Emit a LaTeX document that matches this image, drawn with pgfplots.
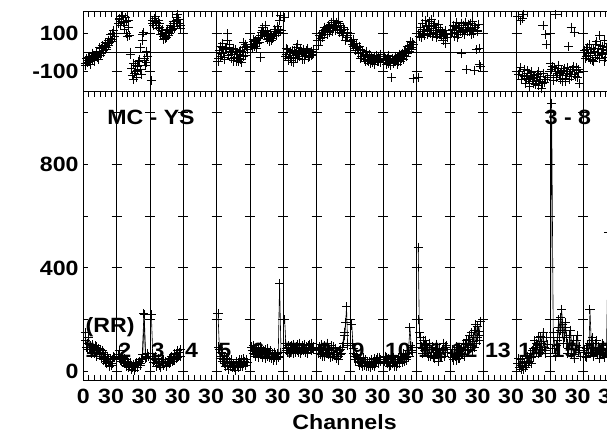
\documentclass[border=0pt]{standalone}
\usepackage{fontspec}
\setmainfont{Liberation Sans}[FakeStretch=1.12]
\usepackage{pgfplots}
\pgfplotsset{compat=1.18}

\newcommand{\lbl}{\bfseries\fontsize{15.5}{16}\selectfont}

\pgfplotsset{
  panel/.style={
    scale only axis, width=425pt, xmin=0, xmax=612,
    anchor=south west,
    tick align=inside,
    xtick={0,36,...,612}, xticklabels={},
    minor x tick num=5,
    xmajorgrids, major grid style={black, line width=0.6pt},
    major tick length=3.75pt, minor tick length=4pt,
    every tick/.append style={black, line width=0.6pt},
    axis line style={line width=0.75pt},
    ytick pos=left,
    tick label style={font=\lbl},
    unbounded coords=jump,
  },
  ampmark/.style={black, line width=0.45pt, mark=+, mark size=3.4pt, mark options={line width=0.75pt}},
  phmark/.style={black, only marks, mark=+, mark size=3.4pt, mark options={line width=0.75pt}},
}

\begin{document}
\begin{tikzpicture}
\useasboundingbox (0,0) rectangle (455.25pt,325.5pt);
\clip (0,0) rectangle (455.25pt,325.5pt);

% amplitude panel
\begin{axis}[panel, at={(62.475pt,40.125pt)}, height=216.375pt,
  ymin=-34, ymax=1078,
  ytick={0,200,...,1000}, yticklabels={0,,400,,800,},
  extra x ticks={0,30,66,...,570},
  extra x tick labels={0,30,30,30,30,30,30,30,30,30,30,30,30,30,30,30,30},
  extra x tick style={major tick length=0pt, grid=none,
    xticklabel style={yshift=-3pt}},
]
\pgfplotsinvokeforeach{36,72,...,576}{
  \draw[line width=0.6pt] \foreach \yy in {0,200,...,1000}{(#1,\yy) ++(-3.75pt,0pt) -- ++(7.5pt,0pt)};
}
\addplot[ampmark] coordinates {
(2,150)(3.5,95)(5,110)(6.5,85)(8,100)(9.5,75)(11,90)(12.5,70)(14,95)(15.5,80)(17,65)(18.5,85)(20,60)(21.5,75)(23,55)(24.5,40)(26,60)(27.5,35)(29,50)(30.5,25)(32,45)(33.5,55)(35,nan)
(38,65)(39.5,50)(41,40)(42.5,55)(44,30)(45.5,45)(47,25)(48.5,35)(50,20)(51.5,30)(53,15)(54.5,28)(56,18)(57.5,35)(59,22)(60.5,40)(62,30)(63.5,50)(65.5,225)(67,60)(68.5,55)(70,60)(71,nan)
(73.5,220)(75,70)(76.5,45)(78,60)(79.5,30)(81,50)(82.5,25)(84,40)(85.5,30)(87,45)(88.5,35)(90,25)(91.5,40)(93,30)(94.5,50)(96,40)(97.5,55)(99,45)(100.5,65)(102,55)(103.5,75)(105,60)(107,nan)
(145.5,225)(147,85)(148.5,60)(150,70)(151.5,45)(153,30)(154.5,50)(156,25)(157.5,40)(159,20)(160.5,35)(162,30)(163.5,15)(165,40)(166.5,25)(168,35)(169.5,20)(171,45)(172.5,30)(174,40)(175.5,25)(177,35)(179,nan)
(182,95)(183.5,70)(185,80)(186.5,60)(188,75)(189.5,90)(191,65)(192.5,80)(194,55)(195.5,70)(197,85)(198.5,60)(200,75)(201.5,65)(203,50)(204.5,70)(206,55)(207.5,65)(209,45)(210.5,60)(212,340)(213.5,75)(215,nan)
(217.5,200)(219,90)(220.5,75)(222,95)(223.5,80)(225,100)(226.5,70)(228,90)(229.5,85)(231,105)(232.5,75)(234,95)(235.5,80)(237,100)(238.5,90)(240,75)(241.5,95)(243,85)(244.5,105)(246,80)(247.5,90)(249,95)(251,nan)
(253.5,70)(255,95)(256.5,80)(258,60)(259.5,85)(261,100)(262.5,70)(264,90)(265.5,75)(267,55)(268.5,80)(270,95)(271.5,65)(273,50)(274.5,75)(276,60)(277.5,85)(279,70)(281,110)(282.5,140)(284.3,250)(285.5,100)(287,nan)
(290,180)(291.5,90)(293,60)(294.5,45)(296,55)(297.5,35)(299,50)(300.5,30)(302,40)(303.5,25)(305,45)(306.5,30)(308,20)(309.5,40)(311,35)(312.5,25)(314,50)(315.5,30)(317,45)(318.5,35)(320,55)(321.5,40)(323,nan)
(325.5,40)(327,55)(328.5,30)(330,45)(331.5,25)(333,50)(334.5,35)(336,20)(337.5,45)(339,30)(340.5,55)(342,40)(343.5,60)(345,35)(346.5,50)(348,65)(349.5,45)(351,70)(352.8,170)(354.5,80)(356,95)(358,nan)
(361.7,480)(363,150)(364.5,110)(366,90)(367.5,120)(369,80)(370.5,100)(372,70)(373.5,95)(375,60)(376.5,85)(378,75)(379.5,50)(381,90)(382.5,65)(384,40)(385.5,70)(387,55)(388.5,80)(390,60)(391.5,95)(393,75)(395,nan)
(397.5,70)(399,55)(400.5,85)(402,60)(403.5,45)(405,75)(406.5,50)(408,90)(409.5,65)(411,110)(412.5,80)(414,120)(415.5,95)(417,140)(418.5,105)(420,80)(421.5,130)(423,160)(424.5,110)(426,175)(427.5,140)(429,195)(431,nan)
(469.5,30)(471,15)(472.5,45)(474,20)(475.5,10)(477,35)(478.5,25)(480,50)(481.5,40)(483,70)(484.5,55)(486,90)(487.5,120)(489,75)(490.5,100)(492,130)(493.5,85)(495,110)(496.5,150)(498,95)(499.5,80)(501,105)(503,nan)
(504.5,60)(505.8,1035)(507.5,150)(509,90)(510.5,60)(512,120)(513.5,200)(515,160)(516.5,240)(518,180)(519.5,130)(521,170)(522.5,110)(524,90)(525.5,140)(527,70)(528.5,100)(530,50)(531.5,85)(533,120)(534.5,75)(536,95)(538,nan)
(541.5,80)(543,55)(544.5,100)(546,70)(547.2,240)(548.5,120)(550,90)(551.5,60)(553,110)(554.5,75)(556,95)(557.5,50)(559,85)(560.5,65)(562,100)(563.5,70)(565,90)(567.2,538)(569,80)
};
\addplot[ampmark] coordinates {
(2.75,120)(4.25,85)(5.75,130)(7.25,95)(8.75,70)(10.25,105)(11.75,80)(13.25,100)(14.75,60)(16.25,90)(17.75,70)(19.25,50)(20.75,80)(22.25,45)(23.75,65)(25.25,30)(26.75,50)(28.25,20)(29.75,40)(31.25,30)(32.75,60)(34,nan)
(38.75,80)(40.25,45)(41.75,60)(43.25,35)(44.75,50)(46.25,20)(47.75,40)(49.25,15)(50.75,35)(52.25,10)(53.75,25)(55.25,5)(56.75,30)(58.25,15)(59.75,35)(61.25,25)(62.75,45)(64.25,65)(65.8,220)(67.5,50)(69,70)(70.5,nan)
(74.75,60)(76.25,35)(77.75,50)(79.25,20)(80.75,40)(82.25,30)(83.75,15)(85.25,45)(86.75,25)(88.25,40)(89.75,20)(91.25,35)(92.75,50)(94.25,35)(95.75,60)(97.25,45)(98.75,70)(100.25,50)(101.75,80)(103.25,60)(104.75,85)(106,nan)
(146.25,95)(147.75,50)(149.25,75)(150.75,40)(152.25,60)(153.75,20)(155.25,40)(156.75,10)(158.25,30)(159.75,45)(161.25,15)(162.75,25)(164.25,5)(165.75,30)(167.25,15)(168.75,45)(170.25,30)(171.75,20)(173.25,50)(174.75,25)(176.25,45)(178,nan)
(182.75,80)(184.25,100)(185.75,65)(187.25,85)(188.75,55)(190.25,75)(191.75,95)(193.25,60)(194.75,80)(196.25,50)(197.75,70)(199.25,90)(200.75,55)(202.25,80)(203.75,60)(205.25,45)(206.75,75)(208.25,50)(209.75,70)(211.25,55)(214,nan)
(218.25,110)(219.75,80)(221.25,100)(222.75,70)(224.25,95)(225.75,85)(227.25,105)(228.75,75)(230.25,95)(231.75,80)(233.25,110)(234.75,70)(236.25,90)(237.75,80)(239.25,105)(240.75,90)(242.25,70)(243.75,100)(245.25,90)(246.75,110)(248.25,85)(250,nan)
(254.25,90)(255.75,65)(257.25,105)(258.75,75)(260.25,60)(261.75,85)(263.25,110)(264.75,65)(266.25,85)(267.75,100)(269.25,60)(270.75,75)(272.25,90)(273.75,65)(275.25,45)(276.75,80)(278.25,65)(279.75,95)(281.75,150)(283.5,190)(286,nan)
(290.75,110)(292.25,70)(293.75,45)(295.25,65)(296.75,40)(298.25,25)(299.75,45)(301.25,20)(302.75,55)(304.25,35)(305.75,20)(307.25,40)(308.75,30)(310.25,15)(311.75,45)(313.25,35)(314.75,20)(316.25,40)(317.75,55)(319.25,30)(320.75,45)(322,nan)
(326.25,60)(327.75,35)(329.25,50)(330.75,20)(332.25,40)(333.75,30)(335.25,55)(336.75,35)(338.25,20)(339.75,45)(341.25,30)(342.75,60)(344.25,45)(345.75,70)(347.25,40)(348.75,55)(350.25,80)(351.75,60)(353.5,100)(355,75)(357,nan)
(362.5,200)(363.75,130)(365.25,95)(366.75,70)(368.25,105)(369.75,120)(371.25,85)(372.75,60)(374.25,110)(375.75,75)(377.25,95)(378.75,55)(380.25,80)(381.75,105)(383.25,70)(384.75,90)(386.25,60)(387.75,85)(389.25,110)(390.75,75)(392.25,100)(394,nan)
(398.25,85)(399.75,45)(401.25,70)(402.75,95)(404.25,65)(405.75,50)(407.25,85)(408.75,70)(410.25,95)(411.75,60)(413.25,105)(414.75,85)(416.25,125)(417.75,100)(419.25,150)(420.75,115)(422.25,95)(423.75,180)(425.25,130)(426.75,155)(428.25,120)(430,nan)
(470.25,50)(471.75,25)(473.25,10)(474.75,40)(476.25,30)(477.75,15)(479.25,60)(480.75,35)(482.25,55)(483.75,30)(485.25,80)(486.75,60)(488.25,95)(489.75,110)(491.25,70)(492.75,95)(494.25,135)(495.75,80)(497.25,115)(498.75,70)(500.25,130)(502,nan)
(507,90)(508.25,130)(509.75,70)(511.25,100)(512.75,170)(514.25,130)(515.75,210)(517.25,150)(518.75,110)(520.25,190)(521.75,130)(523.25,70)(524.75,110)(526.25,160)(527.75,85)(529.25,120)(530.75,65)(532.25,100)(533.75,140)(535.25,80)(536.75,60)(538,nan)
(542.25,60)(543.75,90)(545.25,75)(546.75,110)(548.25,70)(549.75,130)(551.25,95)(552.75,80)(554.25,120)(555.75,65)(557.25,90)(558.75,70)(560.25,110)(561.75,80)(563.25,55)(564.75,75)(566.25,100)
};
\node[font=\lbl] at (73.1,981) {MC - YS};
\node[font=\lbl] at (523.4,980) {3 - 8};
\node[font=\lbl] at (28.9,170) {(RR)};
\node[font=\lbl,anchor=west,inner sep=0pt] at (1.6,82) {1};
\node[font=\lbl,anchor=west,inner sep=0pt] at (37.6,82) {2};
\node[font=\lbl,anchor=west,inner sep=0pt] at (73.6,82) {3};
\node[font=\lbl,anchor=west,inner sep=0pt] at (109.6,82) {4};
\node[font=\lbl,anchor=west,inner sep=0pt] at (145.6,82) {5};
\node[font=\lbl,anchor=west,inner sep=0pt] at (181.6,82) {6};
\node[font=\lbl,anchor=west,inner sep=0pt] at (217.6,82) {7};
\node[font=\lbl,anchor=west,inner sep=0pt] at (253.6,82) {8};
\node[font=\lbl,anchor=west,inner sep=0pt] at (289.6,82) {9};
\node[font=\lbl,anchor=west,inner sep=0pt] at (325.6,82) {10};
\node[font=\lbl,anchor=west,inner sep=0pt] at (361.6,82) {11};
\node[font=\lbl,anchor=west,inner sep=0pt] at (397.6,82) {12};
\node[font=\lbl,anchor=west,inner sep=0pt] at (433.6,82) {13};
\node[font=\lbl,anchor=west,inner sep=0pt] at (469.6,82) {14};
\node[font=\lbl,anchor=west,inner sep=0pt] at (505.6,82) {15};
\node[font=\lbl,anchor=west,inner sep=0pt] at (541.6,82) {16};
\end{axis}

% phase panel
\begin{axis}[panel, at={(62.475pt,256.5pt)}, height=60pt,
  ymin=-205, ymax=208,
  ytick={-100,100}, yticklabels={-100,100},
  xtick pos=right,
]
\draw[line width=0.6pt] (0,0) -- (612,0);
\pgfplotsinvokeforeach{36,72,...,576}{
  \draw[line width=0.6pt] \foreach \yy in {-100,100}{(#1,\yy) ++(-3.75pt,0pt) -- ++(7.5pt,0pt)};
}
\addplot[phmark] coordinates {
(2,-60)(3.5,-30)(5,-45)(6.5,-20)(8,-50)(9.5,-35)(11,-15)(12.5,-40)(14,-10)(15.5,-25)(17,5)(18.5,-15)(20,20)(21.5,0)(23,30)(24.5,15)(26,45)(27.5,35)(29,70)(30.5,55)(32,95)(33.5,80)
(38,150)(39.5,175)(41,160)(42.5,190)(44,140)(45.5,180)(47,95)(48.5,165)(50,85)(51.5,0)(53,-120)(54.5,-60)(56,-100)(57.5,-130)(59,-75)(60.5,-40)(62,-90)(63.5,60)(65,100)(66.5,-30)(68,-55)(69.5,-20)
(73.5,-145)(75,150)(76.5,175)(78,160)(79.5,140)(81,165)(82.5,130)(84,110)(85.5,95)(87,80)(88.5,70)(90,100)(91.5,85)(93,110)(94.5,130)(96,120)(97.5,150)(99,135)(100.5,165)(102,195)(103.5,150)(105,140)
(145.5,-50)(147,10)(148.5,-20)(150,25)(151.5,0)(153,-35)(154.5,15)(156,95)(157.5,40)(159,5)(160.5,-10)(162,20)(163.5,-25)(165,-45)(166.5,-10)(168,-30)(169.5,10)(171,-55)(172.5,-20)(174,25)(175.5,40)(177,15)
(182,40)(183.5,55)(185,30)(186.5,60)(188,45)(189.5,75)(191,-25)(192.5,100)(194,130)(195.5,85)(197,110)(198.5,65)(200,90)(201.5,55)(203,80)(204.5,70)(206,95)(207.5,105)(209,85)(210.5,120)(212,165)(213.5,110)
(217.5,180)(219,-10)(220.5,15)(222,-30)(223.5,5)(225,-45)(226.5,-15)(228,10)(229.5,-25)(231,40)(232.5,-5)(234,-20)(235.5,5)(237,-35)(238.5,0)(240,-15)(241.5,10)(243,-5)(244.5,-20)(246,5)(247.5,-10)(249,0)
(253.5,60)(255,85)(256.5,70)(258,100)(259.5,110)(261,90)(262.5,125)(264,105)(265.5,135)(267,115)(268.5,145)(270,125)(271.5,140)(273,155)(274.5,120)(276,150)(277.5,130)(279,110)(280.5,95)(282,120)(284.3,75)(285.5,85)
(290,55)(291.5,30)(293,45)(294.5,10)(296,25)(297.5,-5)(299,15)(300.5,-20)(302,0)(303.5,-35)(305,-10)(306.5,-25)(308,-45)(309.5,-15)(311,-30)(312.5,-55)(314,-20)(315.5,-40)(317,-25)(318.5,-50)(320,-30)(321.5,-10)
(325.5,-20)(327,-45)(328.5,-30)(330,-60)(331.5,-40)(333,-130)(334.5,-55)(336,-35)(337.5,-50)(339,-25)(340.5,-45)(342,-20)(343.5,-30)(345,-5)(346.5,-15)(348,10)(349.5,-5)(351,20)(352.5,35)(354,25)(355.5,50)(357,40)
(361.7,-130)(363,80)(364.5,105)(366,95)(367.5,120)(369,85)(370.5,140)(372,110)(373.5,160)(375,95)(376.5,125)(378,100)(379.5,150)(381,115)(382.5,90)(384,130)(385.5,105)(387,80)(388.5,60)(390,95)(391.5,45)(393,75)
(397.5,95)(399,120)(400.5,80)(402,135)(403.5,110)(405,90)(406.5,125)(408,-5)(409.5,100)(411,140)(412.5,115)(414,-90)(415.5,130)(417,105)(418.5,150)(420,120)(421.5,95)(423,140)(424.5,15)(426,110)(427.5,-65)(429,-75)
(469.5,185)(471,-100)(472.5,165)(474,-120)(475.5,195)(477,-90)(478.5,-135)(480,-110)(481.5,-150)(483,-125)(484.5,-100)(486,-160)(487.5,-130)(489,-145)(490.5,-115)(492,-170)(493.5,-140)(495,-185)(496.5,140)(498,-155)(499.5,90)(501,-130)
(504.5,-60)(505.8,-90)(507.5,-130)(509,-80)(510.5,195)(512,-110)(513.5,-70)(515,-140)(516.5,-95)(518,-120)(519.5,-85)(521,-150)(522.5,-100)(524,30)(525.5,-115)(527,130)(528.5,-90)(530,100)(531.5,-125)(533,-80)(534.5,-105)(536,-160)
(541.5,10)(543,-20)(544.5,25)(546,-5)(547.5,-35)(549,15)(550.5,-50)(552,5)(553.5,40)(555,-15)(556.5,20)(558,85)(559.5,-10)(561,30)(562.5,60)(564,-25)(565.5,10)(567,45)
};
\addplot[phmark] coordinates {
(2.75,-70)(4.25,-55)(5.75,-25)(7.25,-65)(8.75,-30)(10.25,-5)(11.75,-45)(13.25,-20)(14.75,5)(16.25,-35)(17.75,25)(19.25,-5)(20.75,35)(22.25,10)(23.75,50)(25.25,25)(26.75,60)(28.25,50)(29.75,90)(31.25,65)(32.75,110)
(38.75,170)(40.25,140)(41.75,185)(43.25,155)(44.75,120)(46.25,160)(47.75,80)(49.25,130)(50.75,-10)(52.25,-85)(53.75,-140)(55.25,-110)(56.75,-70)(58.25,-95)(59.75,-50)(61.25,25)(62.75,-115)(64.25,90)(65.75,-45)(67.25,-70)(68.75,5)
(74.75,165)(76.25,140)(77.75,185)(79.25,155)(80.75,125)(82.25,150)(83.75,90)(85.25,115)(86.75,65)(88.25,95)(89.75,75)(91.25,120)(92.75,95)(94.25,140)(95.75,110)(97.25,160)(98.75,125)(100.25,180)(101.75,150)(103.25,170)(104.75,125)
(146.25,-30)(147.75,30)(149.25,-5)(150.75,45)(152.25,-25)(153.75,20)(155.25,60)(156.75,-15)(158.25,25)(159.75,-30)(161.25,5)(162.75,-45)(164.25,15)(165.75,-25)(167.25,-50)(168.75,5)(170.25,-35)(171.75,0)(173.25,50)(174.75,-15)(176.25,30)
(182.75,25)(184.25,65)(185.75,45)(187.25,20)(188.75,70)(190.25,50)(191.75,85)(193.25,115)(194.75,100)(196.25,140)(197.75,80)(199.25,105)(200.75,70)(202.25,95)(203.75,60)(205.25,85)(206.75,120)(208.25,95)(209.75,135)(211.25,100)(212.75,190)
(218.25,-20)(219.75,20)(221.25,-40)(222.75,0)(224.25,-25)(225.75,10)(227.25,-55)(228.75,-5)(230.25,25)(231.75,-30)(233.25,-10)(234.75,20)(236.25,-20)(237.75,15)(239.25,-35)(240.75,-5)(242.25,20)(243.75,-25)(245.25,0)(246.75,-15)(248.25,15)
(254.25,35)(255.75,60)(257.25,95)(258.75,75)(260.25,130)(261.75,110)(263.25,90)(264.75,140)(266.25,100)(267.75,155)(269.25,110)(270.75,165)(272.25,115)(273.75,135)(275.25,160)(276.75,100)(278.25,140)(279.75,85)(281.25,130)(282.75,60)(285,100)
(290.75,40)(292.25,65)(293.75,20)(295.25,45)(296.75,0)(298.25,30)(299.75,-30)(301.25,10)(302.75,-20)(304.25,-50)(305.75,5)(307.25,-40)(308.75,-10)(310.25,-60)(311.75,-20)(313.25,-35)(314.75,-65)(316.25,-15)(317.75,-45)(319.25,-20)(320.75,-55)
(326.25,-35)(327.75,-65)(329.25,-15)(330.75,-45)(332.25,-70)(333.75,-30)(335.25,-60)(336.75,-20)(338.25,-40)(339.75,-65)(341.25,-10)(342.75,-50)(344.25,-15)(345.75,-35)(347.25,5)(348.75,-20)(350.25,30)(351.75,5)(353.25,55)(354.75,15)(356.25,-135)
(362.25,95)(363.75,130)(365.25,75)(366.75,150)(368.25,105)(369.75,165)(371.25,90)(372.75,135)(374.25,115)(375.75,170)(377.25,80)(378.75,140)(380.25,110)(381.75,75)(383.25,145)(384.75,90)(386.25,120)(387.75,100)(389.25,70)(390.75,110)(392.25,90)
(398.25,110)(399.75,140)(401.25,100)(402.75,155)(404.25,75)(405.75,130)(407.25,105)(408.75,150)(410.25,120)(411.75,90)(413.25,155)(414.75,110)(416.25,145)(417.75,125)(419.25,90)(420.75,160)(422.25,-95)(423.75,130)(425.25,105)(426.75,145)(428.25,20)
(470.25,-115)(471.75,-80)(473.25,-140)(474.75,175)(476.25,-125)(477.75,-160)(479.25,-95)(480.75,-140)(482.25,-175)(483.75,-105)(485.25,-135)(486.75,-120)(488.25,-165)(489.75,-130)(491.25,-100)(492.75,-150)(494.25,-125)(495.75,-160)(497.25,-110)(498.75,-140)(500.25,40)
(505,-120)(506.5,-75)(508.25,-145)(509.75,-100)(511.25,-130)(512.75,-85)(514.25,-120)(515.75,-105)(517.25,-150)(518.75,-95)(520.25,-135)(521.75,-110)(523.25,-80)(524.75,-140)(526.25,-100)(527.75,-125)(529.25,-75)(530.75,-115)(532.25,-95)(533.75,-130)(535.25,-90)
(542.25,-30)(543.75,15)(545.25,-15)(546.75,40)(548.25,-5)(549.75,-40)(551.25,20)(552.75,-25)(554.25,55)(555.75,0)(557.25,-30)(558.75,35)(560.25,-5)(561.75,15)(563.25,-45)(564.75,25)(566.25,-10)
};
\end{axis}

\node[font=\lbl] at (258.4pt,9.2pt) {Channels};
\end{tikzpicture}
\end{document}
